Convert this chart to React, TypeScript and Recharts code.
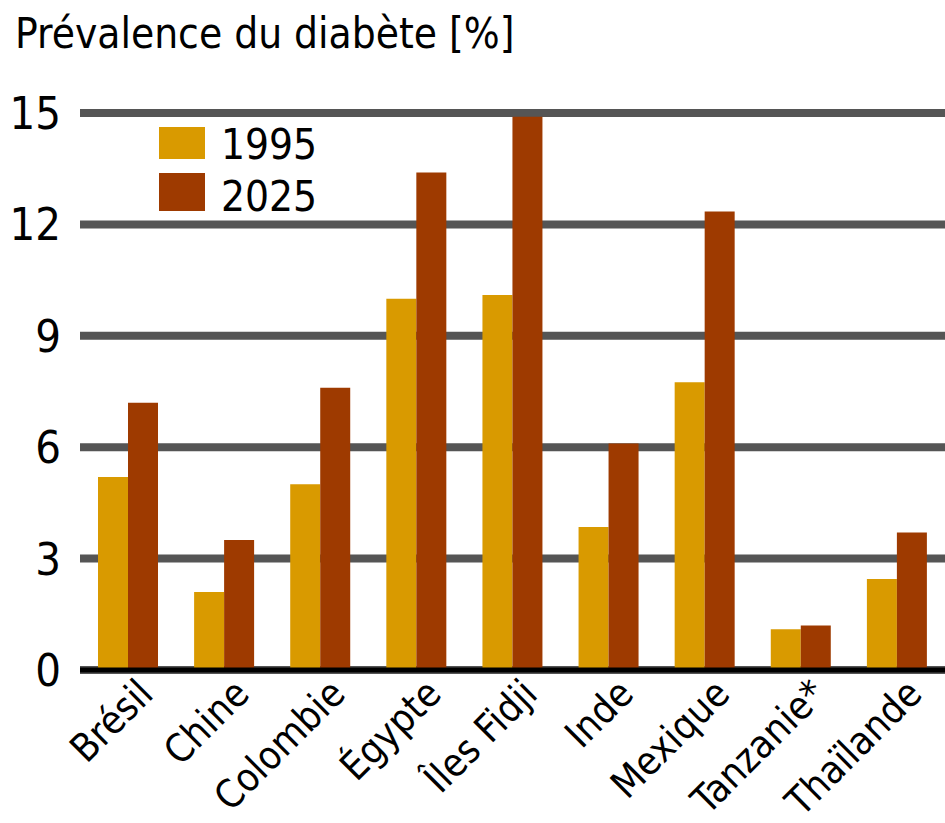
import { BarChart, Bar, XAxis, YAxis, CartesianGrid } from "recharts";

const pays = ["Brésil", "Chine", "Colombie", "Égypte", "Îles Fidji", "Inde", "Mexique", "Tanzanie*", "Thaïlande"];
const val1995 = [5.2, 2.1, 5.0, 10.0, 10.1, 3.85, 7.75, 1.1, 2.45];
const val2025 = [7.2, 3.5, 7.6, 13.4, 14.9, 6.1, 12.35, 1.2, 3.7];
const yTicks = [0, 3, 6, 9, 12, 15];

const data = pays.map((p, i) => ({ pays: p, a1995: val1995[i], a2025: val2025[i] }));

const FONT = "'DejaVu Sans', sans-serif";
const STRETCH = { fontStretch: "condensed" as const };
const COL_1995 = "#d99a00";
const COL_2025 = "#9e3a00";

// ligne de grille : la ligne du haut a un liseré gris clair
const GridLine = (props: any) => {
  const { x1, x2, y1, index } = props;
  if (index === 0 && y1 < 130) {
    return (
      <g>
        <line x1={x1} x2={x2} y1={y1 - 2.5} y2={y1 - 2.5} stroke="#b8b8b8" strokeWidth={5} />
        <line x1={x1} x2={x2} y1={y1 + 2} y2={y1 + 2} stroke="#555555" strokeWidth={4} />
      </g>
    );
  }
  return <line x1={x1} x2={x2} y1={y1} y2={y1} stroke="#555555" strokeWidth={8} />;
};

const XTick = ({ x, y, payload }: any) => (
  <text
    x={x + 27}
    y={y + 18}
    textAnchor="end"
    transform={`rotate(-45 ${x + 27} ${y + 18})`}
    fontSize={39}
    fontFamily={FONT}
    style={STRETCH}
    fill="#000"
  >
    {payload.value}
  </text>
);

const legendItems = [
  { lbl: "1995", c: COL_1995, top: 127, h: 32, base: 159 },
  { lbl: "2025", c: COL_2025, top: 173, h: 38, base: 211 },
];

export default function App() {
  return (
    <div style={{ position: "absolute", left: 0, top: 0, width: 945, height: 823, background: "#fff" }}>
      <BarChart
        width={945}
        height={823}
        data={data}
        margin={{ top: 113, right: 0, left: 0, bottom: 0 }}
        barCategoryGap={18}
        barGap={0}
      >
        <CartesianGrid vertical={false} horizontal={<GridLine />} />
        <YAxis
          domain={[0, 15]}
          ticks={yTicks}
          width={80}
          axisLine={false}
          tickLine={false}
          tickMargin={13}
          tick={{ fontSize: 45, fontFamily: FONT, fill: "#000", style: STRETCH }}
        />
        <XAxis
          dataKey="pays"
          height={153}
          interval={0}
          axisLine={{ stroke: "#000", strokeWidth: 5 }}
          tickLine={false}
          tick={<XTick />}
        />
        <Bar dataKey="a1995" name="1995" fill={COL_1995} isAnimationActive={false} />
        <Bar dataKey="a2025" name="2025" fill={COL_2025} isAnimationActive={false} />
      </BarChart>
      <svg width={945} height={823} style={{ position: "absolute", left: 0, top: 0, pointerEvents: "none" }}>
        <text x={15} y={48} fontSize={42} fontFamily={FONT} style={STRETCH} fill="#000">
          Prévalence du diabète [%]
        </text>
        {legendItems.map((it) => (
          <g key={it.lbl}>
            <rect x={159} y={it.top} width={46} height={it.h} fill={it.c} />
            <text x={221} y={it.base} fontSize={42} fontFamily={FONT} style={STRETCH} fill="#000">
              {it.lbl}
            </text>
          </g>
        ))}
      </svg>
    </div>
  );
}
